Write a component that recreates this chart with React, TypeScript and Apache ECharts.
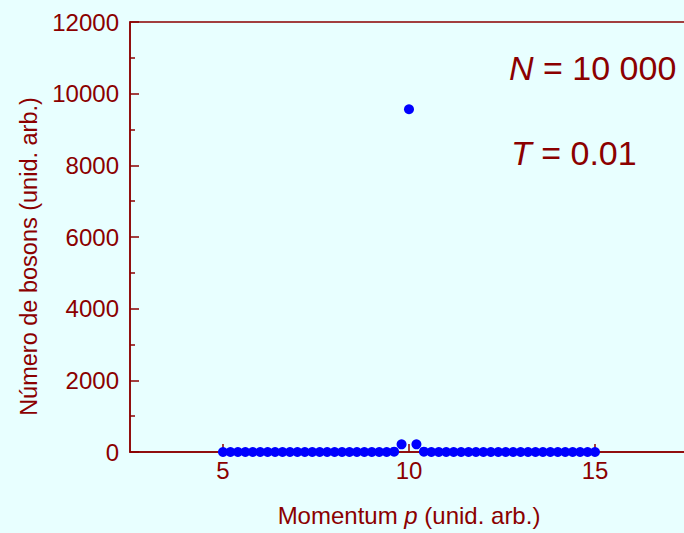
import React, { useEffect, useRef } from "react";
import * as echarts from "echarts";

// Momentum values p (unid. arb.)
const momentum: number[] = [
  5.0, 5.2, 5.4, 5.6, 5.8, 6.0, 6.2, 6.4, 6.6, 6.8,
  7.0, 7.2, 7.4, 7.6, 7.8, 8.0, 8.2, 8.4, 8.6, 8.8,
  9.0, 9.2, 9.4, 9.6, 9.8, 10.0, 10.2, 10.4, 10.6, 10.8,
  11.0, 11.2, 11.4, 11.6, 11.8, 12.0, 12.2, 12.4, 12.6, 12.8,
  13.0, 13.2, 13.4, 13.6, 13.8, 14.0, 14.2, 14.4, 14.6, 14.8,
  15.0,
];

// Number of bosons (unid. arb.)
const bosons: number[] = [
  0, 0, 0, 0, 0, 0, 0, 0, 0, 0,
  0, 0, 0, 0, 0, 0, 0, 0, 0, 0,
  0, 0, 0, 10, 215, 9565, 215, 10, 0, 0,
  0, 0, 0, 0, 0, 0, 0, 0, 0, 0,
  0, 0, 0, 0, 0, 0, 0, 0, 0, 0,
  0,
];

const xTickValues: number[] = [5, 10, 15];
const yTickLabels: string[] = ["0", "2000", "4000", "6000", "8000", "10000", "12000"];

const annotationN = { italic: "N", rest: " = 10 000" };
const annotationT = { italic: "T", rest: " = 0.01" };

const DARK_RED = "#8b0000";
const FONT = "'Liberation Sans', Arial, sans-serif";

export default function App() {
  const ref = useRef<HTMLDivElement>(null);

  useEffect(() => {
    if (!ref.current) return;
    const chart = echarts.init(ref.current, undefined, { renderer: "svg" });
    const data = momentum.map((p, i) => [p, bosons[i]]);
    chart.setOption({
      animation: false,
      backgroundColor: "#e8ffff",
      textStyle: { fontFamily: FONT },
      grid: {
        left: 130,
        top: 22,
        width: 558,
        height: 430,
        outerBoundsMode: "none",
        containLabel: false,
        show: true,
        borderColor: DARK_RED,
        borderWidth: 1.5,
        backgroundColor: "transparent",
      },
      xAxis: {
        type: "value",
        min: 2.5,
        max: 17.5,
        name: "Momentum {i|p} (unid. arb.)",
        nameLocation: "middle",
        nameGap: 51,
        nameTextStyle: {
          color: DARK_RED,
          fontSize: 24,
          fontFamily: FONT,
          rich: {
            i: { fontStyle: "italic", fontSize: 24, color: DARK_RED, fontFamily: FONT },
          },
        },
        axisLine: { show: true, lineStyle: { color: DARK_RED, width: 1.5 } },
        axisTick: {
          show: true,
          inside: true,
          length: 8,
          customValues: xTickValues,
          lineStyle: { color: DARK_RED, width: 1.5 },
        },
        axisLabel: {
          color: DARK_RED,
          fontSize: 24,
          fontFamily: FONT,
          margin: 6,
          customValues: xTickValues,
        },
        splitLine: { show: false },
      },
      yAxis: {
        type: "value",
        min: 0,
        max: 12000,
        interval: 2000,
        name: "Número de bosons (unid. arb.)",
        nameLocation: "middle",
        nameGap: 88,
        nameTextStyle: {
          color: DARK_RED,
          fontSize: 23.5,
          fontFamily: FONT,
          padding: [0, 39, 0, 0],
        },
        axisLine: { show: true, lineStyle: { color: DARK_RED, width: 1.5 } },
        axisTick: {
          show: true,
          inside: true,
          length: 9,
          lineStyle: { color: DARK_RED, width: 1.5 },
        },
        minorTick: {
          show: true,
          splitNumber: 2,
          length: 5,
          lineStyle: { color: DARK_RED, width: 1.5 },
        },
        axisLabel: {
          color: DARK_RED,
          fontSize: 24,
          fontFamily: FONT,
          margin: 11,
          formatter: (v: number) => yTickLabels[Math.round(v / 2000)] ?? String(v),
        },
        splitLine: { show: false },
      },
      series: [
        {
          type: "scatter",
          data,
          symbol: "circle",
          symbolSize: 10,
          itemStyle: { color: "#0000ff", opacity: 1 },
          clip: false,
        },
      ],
      graphic: [
        {
          type: "text",
          left: 509,
          top: 51,
          style: {
            text: `{i|${annotationN.italic}}{r|${annotationN.rest}}`,
            rich: {
              i: { fontStyle: "italic", fontSize: 34, fill: DARK_RED, fontFamily: FONT },
              r: { fontSize: 34, fill: DARK_RED, fontFamily: FONT },
            },
          },
        },
        {
          type: "text",
          left: 511,
          top: 136,
          style: {
            text: `{i|${annotationT.italic}}{r|${annotationT.rest}}`,
            rich: {
              i: { fontStyle: "italic", fontSize: 34, fill: DARK_RED, fontFamily: FONT },
              r: { fontSize: 34, fill: DARK_RED, fontFamily: FONT },
            },
          },
        },
      ],
    });
    return () => chart.dispose();
  }, []);

  return (
    <div
      ref={ref}
      style={{ position: "absolute", left: 0, top: 0, width: 684, height: 533 }}
    />
  );
}
